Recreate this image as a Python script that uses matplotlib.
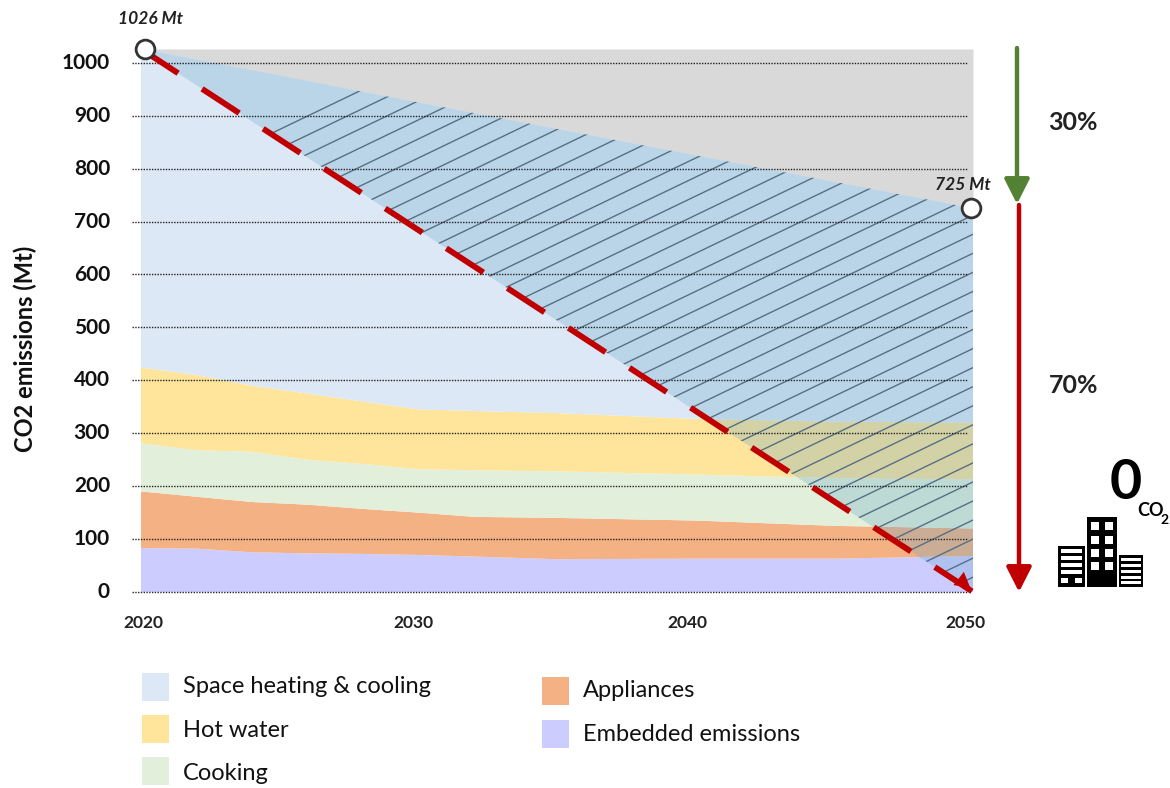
import numpy as np
import matplotlib
matplotlib.use("Agg")
import matplotlib.pyplot as plt
from matplotlib.patches import Rectangle
from matplotlib.transforms import Affine2D

plt.rcParams['font.family'] = ['Lato', 'DejaVu Sans']

years = [2020, 2022, 2024, 2026, 2028, 2030, 2032, 2035, 2040, 2045, 2050]

# emissions per end use, Mt CO2
embedded = [83, 82, 75, 73, 72, 70, 67, 62, 63, 63, 68]
appliances = [107, 98, 95, 92, 85, 80, 75, 78, 72, 62, 52]
cooking = [91, 88, 95, 85, 85, 82, 88, 88, 87, 90, 93]
hot_water = [143, 142, 125, 125, 118, 113, 112, 110, 105, 107, 107]
space = [602, 571, 550, 525, 500, 480, 458, 427, 498 - 325, 0, 0]
total = [1026, 1006, 986, 966, 945, 925, 905, 875, 825, 775, 725]
space = list(np.array(total) - np.array(embedded) - np.array(appliances)
             - np.array(cooking) - np.array(hot_water))

pathway_years = [2020, 2050]
pathway_values = [1026, 0]

labels = ["Space heating & cooling", "Hot water", "Cooking", "Appliances", "Embedded emissions"]
colors = ["#DCE8F5", "#FFE49B", "#E2EFDA", "#F4B183", "#CCCCFF"]
yticks = np.arange(0, 1001, 100)
xtick_labels = ["2020", "2030", "2040", "2050"]
xtick_px = [143, 413, 687, 965]

fig = plt.figure(figsize=(11.7, 7.88), dpi=100)
# pixel coordinates, origin top left
px = Affine2D().scale(1 / 1170, -1 / 788).translate(0, 1) + fig.transFigure

ax = fig.add_axes([141 / 1170, 1 - 592 / 788, 832 / 1170, 543 / 788])
ax.set_xlim(2020, 2050)
ax.set_ylim(0, 1026)
ax.axis("off")

# grey band above the reference trajectory
ax.fill_between(years, total, 1026, color="#D9D9D9", lw=0, zorder=1)
ax.stackplot(years, embedded, appliances, cooking, hot_water, space,
             colors=[colors[4], colors[3], colors[2], colors[1], colors[0]],
             lw=0, zorder=2)

# gap between the reference and the net zero pathway
path_at = np.interp(years, pathway_years, pathway_values)
gap_x = np.r_[years, years[::-1]]
gap_y = np.r_[total, path_at[::-1]]
gap = ax.fill(gap_x, gap_y, color="#64A5C8", alpha=0.28, lw=0, zorder=3)[0]

# hatching clipped to the gap
slope = 25.2
for c in np.arange(-800, 760, 36):
    hx = np.array([2020, 2050])
    line, = ax.plot(hx, c + slope * (hx - 2020), color="#566F84", lw=1.0, zorder=4)
    line.set_clip_path(gap)

ax.hlines(yticks, 2019.68, 2049.82, colors="#222222", linestyles=(0, (1, 1)),
          lw=1.0, zorder=5, clip_on=False)

ax.plot(pathway_years, pathway_values, color="#C00000", lw=4.2,
        dashes=(7.6, 4.9), dash_capstyle="butt", zorder=6, clip_on=False)
ax.plot([2049.6], [20], marker=(3, 0, -8), ms=14, color="#C00000", mew=0, zorder=7, clip_on=False)

ax.plot([2020.14, 2049.93], [1026, 725], ls="none", marker="o", ms=13.5, mfc="white",
        mec="#333333", mew=2, zorder=8, clip_on=False)

for v in yticks:
    fig.text(110 / 1170, 1 - (592 - v * 0.529) / 788, str(v), ha="right", va="center",
             fontsize=15, fontweight="bold", color="#111111")
fig.text(25 / 1170, 1 - 349 / 788, "CO2 emissions (Mt)", rotation=90, ha="center", va="center",
         fontsize=17, fontweight="bold", color="#111111")
for lab, x in zip(xtick_labels, xtick_px):
    ax.text(x, 623, lab, transform=px, ha="center", va="center", fontsize=12.5,
            fontweight="bold", color="#222222", clip_on=False)

ax.text(150, 19, "1026 Mt", transform=px, ha="center", va="center", fontsize=12.5,
        fontweight="bold", style="italic", color="#222222")
ax.text(963, 185, "725 Mt", transform=px, ha="center", va="center", fontsize=12.5,
        fontweight="bold", style="italic", color="#222222")

# side arrows
for x, y0, y1, col in [(1017, 48, 204, "#548235"), (1019, 205, 592, "#C00000")]:
    ax.annotate("", xy=(x, y1), xytext=(x, y0), xycoords=px, textcoords=px,
                arrowprops=dict(arrowstyle="-|>,head_length=0.75,head_width=0.38", color=col,
                                lw=3.2, mutation_scale=20, shrinkA=0, shrinkB=0))
ax.text(1073, 122, "30%", transform=px, ha="center", va="center", fontsize=18,
        fontweight="bold", color="#222222")
ax.text(1074, 386, "70%", transform=px, ha="center", va="center", fontsize=18,
        fontweight="bold", color="#222222")

# zero carbon building icon
ax.text(1126, 483, "0", transform=px, ha="center", va="center", fontsize=40,
        fontweight="bold", color="black")
ax.text(1150, 510, "CO", transform=px, ha="center", va="center", fontsize=13,
        fontweight="bold", color="black")
ax.text(1165, 520, "2", transform=px, ha="center", va="center", fontsize=10,
        fontweight="bold", color="black")


def box(x0, y0, x1, y1, col):
    fig.add_artist(Rectangle((x0, y0), x1 - x0, y1 - y0, transform=px, fc=col, ec="none", lw=0))


box(1058, 546, 1085, 587, "black")
box(1087, 517, 1117, 587, "black")
box(1119, 555, 1143, 587, "black")
for y in [549, 556, 563, 570]:
    box(1061, y, 1082, y + 4, "white")
box(1061, 578, 1068, 583, "white")
box(1075, 578, 1082, 583, "white")
for y in [522, 536, 549, 562]:
    box(1091, y, 1099, y + 8, "white")
    box(1105, y, 1113, y + 8, "white")
for y in [558, 564, 570, 576, 581]:
    box(1121, y, 1141, y + 3, "white")

# legend
legend_px = [(142, 673, 687), (142, 715, 731), (142, 757, 774), (542, 677, 691), (542, 720, 735)]
for lab, col, (x, y, ty) in zip(labels, colors, legend_px):
    box(x, y, x + 27, y + 28, col)
    ax.text(x + 41, ty, lab, transform=px, ha="left", va="center", fontsize=17,
            color="#111111")

fig.savefig("out.png", dpi=100, facecolor="white")
